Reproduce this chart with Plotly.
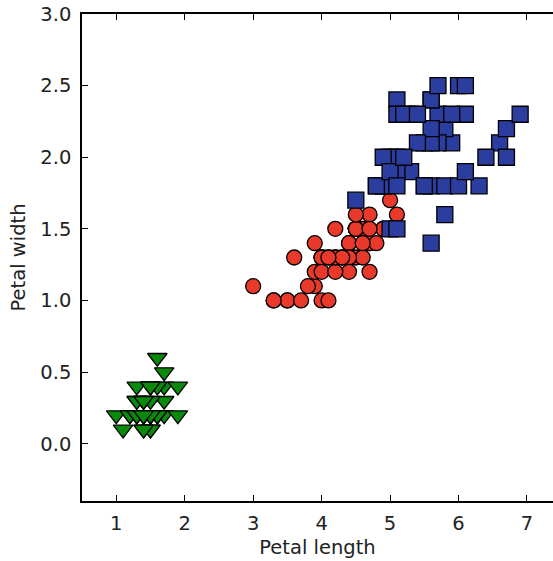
import plotly.graph_objects as go

# Iris petal measurements
setosa_length = [1.4, 1.4, 1.3, 1.5, 1.4, 1.7, 1.4, 1.5, 1.4, 1.5, 1.5, 1.6, 1.4, 1.1, 1.2, 1.5, 1.3, 1.4, 1.7, 1.5,
                 1.7, 1.5, 1.0, 1.7, 1.9, 1.6, 1.6, 1.5, 1.4, 1.6, 1.6, 1.5, 1.5, 1.4, 1.5, 1.2, 1.3, 1.4, 1.3, 1.5,
                 1.3, 1.3, 1.3, 1.6, 1.9, 1.4, 1.6, 1.4, 1.5, 1.4]
setosa_width = [0.2, 0.2, 0.2, 0.2, 0.2, 0.4, 0.3, 0.2, 0.2, 0.1, 0.2, 0.2, 0.1, 0.1, 0.2, 0.4, 0.4, 0.3, 0.3, 0.3,
                0.2, 0.4, 0.2, 0.5, 0.2, 0.2, 0.4, 0.2, 0.2, 0.2, 0.2, 0.4, 0.1, 0.2, 0.2, 0.2, 0.2, 0.1, 0.2, 0.2,
                0.3, 0.3, 0.2, 0.6, 0.4, 0.3, 0.2, 0.2, 0.2, 0.2]

versicolor_length = [4.7, 4.5, 4.9, 4.0, 4.6, 4.5, 4.7, 3.3, 4.6, 3.9, 3.5, 4.2, 4.0, 4.7, 3.6, 4.4, 4.5, 4.1, 4.5, 3.9,
                     4.8, 4.0, 4.9, 4.7, 4.3, 4.4, 4.8, 5.0, 4.5, 3.5, 3.8, 3.7, 3.9, 5.1, 4.5, 4.5, 4.7, 4.4, 4.1, 4.0,
                     4.4, 4.6, 4.0, 3.3, 4.2, 4.2, 4.2, 4.3, 3.0, 4.1]
versicolor_width = [1.4, 1.5, 1.5, 1.3, 1.5, 1.3, 1.6, 1.0, 1.3, 1.4, 1.0, 1.5, 1.0, 1.4, 1.3, 1.4, 1.5, 1.0, 1.5, 1.1,
                    1.8, 1.3, 1.5, 1.2, 1.3, 1.4, 1.4, 1.7, 1.5, 1.0, 1.1, 1.0, 1.2, 1.6, 1.5, 1.6, 1.5, 1.3, 1.3, 1.3,
                    1.2, 1.4, 1.2, 1.0, 1.3, 1.2, 1.3, 1.3, 1.1, 1.3]

virginica_length = [6.0, 5.1, 5.9, 5.6, 5.8, 6.6, 4.5, 6.3, 5.8, 6.1, 5.1, 5.3, 5.5, 5.0, 5.1, 5.3, 5.5, 6.7, 6.9, 5.0,
                    5.7, 4.9, 6.7, 4.9, 5.7, 6.0, 4.8, 4.9, 5.6, 5.8, 6.1, 6.4, 5.6, 5.1, 5.6, 6.1, 5.6, 5.5, 4.8, 5.4,
                    5.6, 5.1, 5.1, 5.9, 5.7, 5.2, 5.0, 5.2, 5.4, 5.1]
virginica_width = [2.5, 1.9, 2.1, 1.8, 2.2, 2.1, 1.7, 1.8, 1.8, 2.5, 2.0, 1.9, 2.1, 2.0, 2.4, 2.3, 1.8, 2.2, 2.3, 1.5,
                   2.3, 2.0, 2.0, 1.8, 2.1, 1.8, 1.8, 1.8, 2.1, 1.6, 1.9, 2.0, 2.2, 1.5, 1.4, 2.3, 2.4, 1.8, 1.8, 2.1,
                   2.4, 2.3, 1.9, 2.3, 2.5, 2.3, 1.9, 2.0, 2.3, 1.8]

x_ticks = [1, 2, 3, 4, 5, 6, 7]
y_ticks = [0.0, 0.5, 1.0, 1.5, 2.0, 2.5, 3.0]

FONT = "DejaVu Sans"
TXT = "#222222"
FS = 19.5

fig = go.Figure()
fig.add_trace(go.Scatter(x=setosa_length, y=setosa_width, mode="markers",
                         marker=dict(symbol="triangle-down", size=17, color="#0a8a0a",
                                     line=dict(color="black", width=1.3))))
fig.add_trace(go.Scatter(x=versicolor_length, y=versicolor_width, mode="markers",
                         marker=dict(symbol="circle", size=15, color="#e8392a",
                                     line=dict(color="black", width=1.3))))
fig.add_trace(go.Scatter(x=virginica_length, y=virginica_width, mode="markers",
                         marker=dict(symbol="square", size=16, color="#2b3d9e",
                                     line=dict(color="black", width=1.3))))

fig.update_layout(
    width=553, height=561,
    margin=dict(l=82, r=0, t=14, b=60),
    paper_bgcolor="white", plot_bgcolor="white",
    showlegend=False,
    font=dict(family=FONT, size=FS, color=TXT),
)
fig.update_xaxes(
    range=[0.5, 7.38], tickmode="array", tickvals=x_ticks, ticktext=[str(v) for v in x_ticks],
    showgrid=False, zeroline=False, showline=True, linecolor="black", linewidth=1.5,
    mirror="ticks", ticks="inside", ticklen=6, tickcolor="black", tickwidth=1,
    ticklabelstandoff=4, automargin=False,
    title=dict(text="Petal length", font=dict(family=FONT, size=FS, color=TXT), standoff=6),
)
fig.update_yaxes(
    range=[-0.4, 3.0], tickmode="array", tickvals=y_ticks, ticktext=[f"{v:.1f}" for v in y_ticks],
    showgrid=False, zeroline=False, showline=True, linecolor="black", linewidth=1.5,
    ticks="inside", ticklen=6, tickcolor="black", tickwidth=1,
    ticklabelstandoff=5, automargin=False,
    title=dict(text="Petal width", font=dict(family=FONT, size=FS, color=TXT), standoff=10),
)

fig.write_html("out.html", config={"displayModeBar": False},
               post_script="document.body.style.margin='0px';document.body.style.overflow='hidden';")
